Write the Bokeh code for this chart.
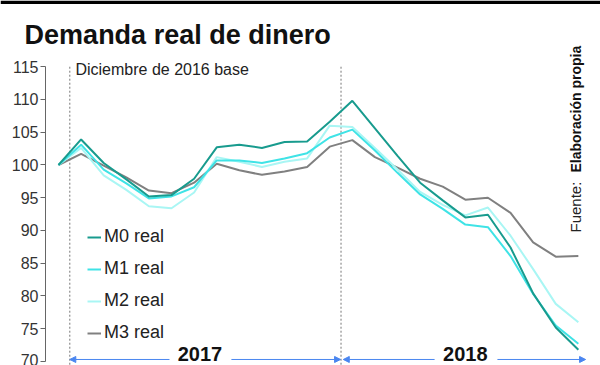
from bokeh.plotting import figure
from bokeh.models import (Range1d, LinearAxis, FixedTicker, Legend, LegendItem,
                          Label, Arrow, NormalHead, BoxAnnotation)
from bokeh.embed import file_html
from bokeh.resources import INLINE

# ---- data (index 0 = Dic 2016 base, 1..12 = 2017, 13..23 = 2018) ----
idx = list(range(24))
m0 = [100, 103.9, 100.3, 97.8, 95.2, 95.4, 97.9, 102.7, 103.1, 102.6, 103.5, 103.6,
      106.6, 109.8, 105.6, 101.4, 97.3, 94.6, 92.0, 92.4, 87.4, 80.4, 75.2, 71.8]
m1 = [100, 103.1, 99.3, 97.2, 94.9, 95.2, 96.6, 100.7, 100.7, 100.3, 101.0, 101.8,
      104.2, 105.4, 102.2, 98.8, 95.5, 93.3, 90.9, 90.5, 86.1, 80.3, 75.5, 72.7]
m2 = [100, 102.6, 98.4, 96.2, 93.7, 93.4, 95.8, 101.2, 100.5, 99.7, 100.5, 101.0,
      106.0, 105.8, 102.6, 99.3, 95.9, 93.9, 92.3, 93.5, 89.2, 84.1, 78.8, 76.0]
m3 = [100, 101.7, 99.9, 98.1, 96.1, 95.7, 97.3, 100.2, 99.2, 98.5, 99.0, 99.7,
      102.8, 103.8, 101.2, 99.6, 97.9, 96.7, 94.7, 95.0, 92.7, 88.2, 86.0, 86.1]
series_names = ["M0 real", "M1 real", "M2 real", "M3 real"]
y_ticks = [70, 75, 80, 85, 90, 95, 100, 105, 110, 115]
year_labels = ["2017", "2018"]
base_label = "Diciembre de 2016 base"
title_text = "Demanda real de dinero"

colors = ["#189b8e", "#3fe3e6", "#a9f6f4", "#808080"]
FONT = "Liberation Sans"

p = figure(width=600, height=365, output_backend="svg", toolbar_location=None,
           x_range=Range1d(-2.566, 23.98), y_range=Range1d(69.39, 125.11),
           x_axis_type=None, y_axis_type=None,
           min_border_left=0, min_border_right=0, min_border_top=0, min_border_bottom=0)
p.outline_line_color = None
p.xgrid.visible = False
p.ygrid.visible = False
p.background_fill_color = "white"

# top black rule
p.add_layout(BoxAnnotation(bottom=124.58, fill_color="black", fill_alpha=1, line_color=None))

yaxis = LinearAxis(ticker=FixedTicker(ticks=y_ticks), bounds=(70, 115),
                   fixed_location=-0.575)
yaxis.axis_line_color = "#666666"
yaxis.major_tick_line_color = "#666666"
yaxis.major_tick_out = 5
yaxis.major_tick_in = 0
yaxis.minor_tick_line_color = None
yaxis.major_label_standoff = 2
yaxis.major_label_text_font = FONT
yaxis.major_label_text_font_size = "16px"
yaxis.major_label_text_color = "#333333"
p.add_layout(yaxis, "left")

# dotted base lines
p.segment(x0=[0.5, 12.5], y0=[115, 115], x1=[0.5, 12.5], y1=[69.39, 69.39],
          line_color="#777777", line_dash="2 2", line_width=1)

rs = {}
for name, ys, c in reversed(list(zip(series_names, [m0, m1, m2, m3], colors))):
    rs[name] = p.line(idx, ys, line_color=c, line_width=2)

legend = Legend(items=[LegendItem(label=n, renderers=[rs[n]]) for n in series_names],
                location=(87, 22), padding=0, margin=0, spacing=11,
                glyph_width=14, glyph_height=20, label_height=20, label_standoff=3,
                border_line_color=None, background_fill_alpha=0,
                label_text_font=FONT, label_text_font_size="18px",
                label_text_color="#222222")
p.add_layout(legend, "center")

p.add_layout(Label(x=-1.5, y=119.9, text=title_text, text_font=FONT,
                   text_font_size="27px", text_font_style="bold",
                   text_baseline="middle", text_color="#111111"))
p.add_layout(Label(x=0.75, y=114.6, text=base_label, text_font=FONT,
                   text_font_size="16px", text_baseline="middle", text_color="#222222"))

# source, rotated
p.add_layout(Label(x=22.88, y=89.69, text="Fuente: ", angle=1.5708, text_font=FONT,
                   text_font_size="15px", text_baseline="alphabetic", text_color="#222222"))
p.add_layout(Label(x=22.88, y=98.85, text="Elaboración propia", angle=1.5708, text_font=FONT,
                   text_font_size="14px", text_font_style="bold",
                   text_baseline="alphabetic", text_color="#111111"))

# year arrows
blue = "#4a86f0"
ay = 70.31
spans = [(0.5, 4.91, 7.65, 12.48, 6.26), (12.6, 16.64, 19.42, 23.32, 18.0)]
for (a, b, c, d, mid), lab in zip(spans, year_labels):
    p.add_layout(Arrow(x_start=b, y_start=ay, x_end=a, y_end=ay, line_color=blue, line_width=1,
                       end=NormalHead(size=6, fill_color=blue, line_color=blue)))
    p.add_layout(Arrow(x_start=c, y_start=ay, x_end=d, y_end=ay, line_color=blue, line_width=1,
                       end=NormalHead(size=6, fill_color=blue, line_color=blue)))
    p.add_layout(Label(x=mid, y=71.22, text=lab, text_font=FONT, text_font_size="20px",
                       text_font_style="bold", text_align="center", text_baseline="middle",
                       text_color="#111111"))

open("out.html", "w").write(file_html(p, INLINE))
